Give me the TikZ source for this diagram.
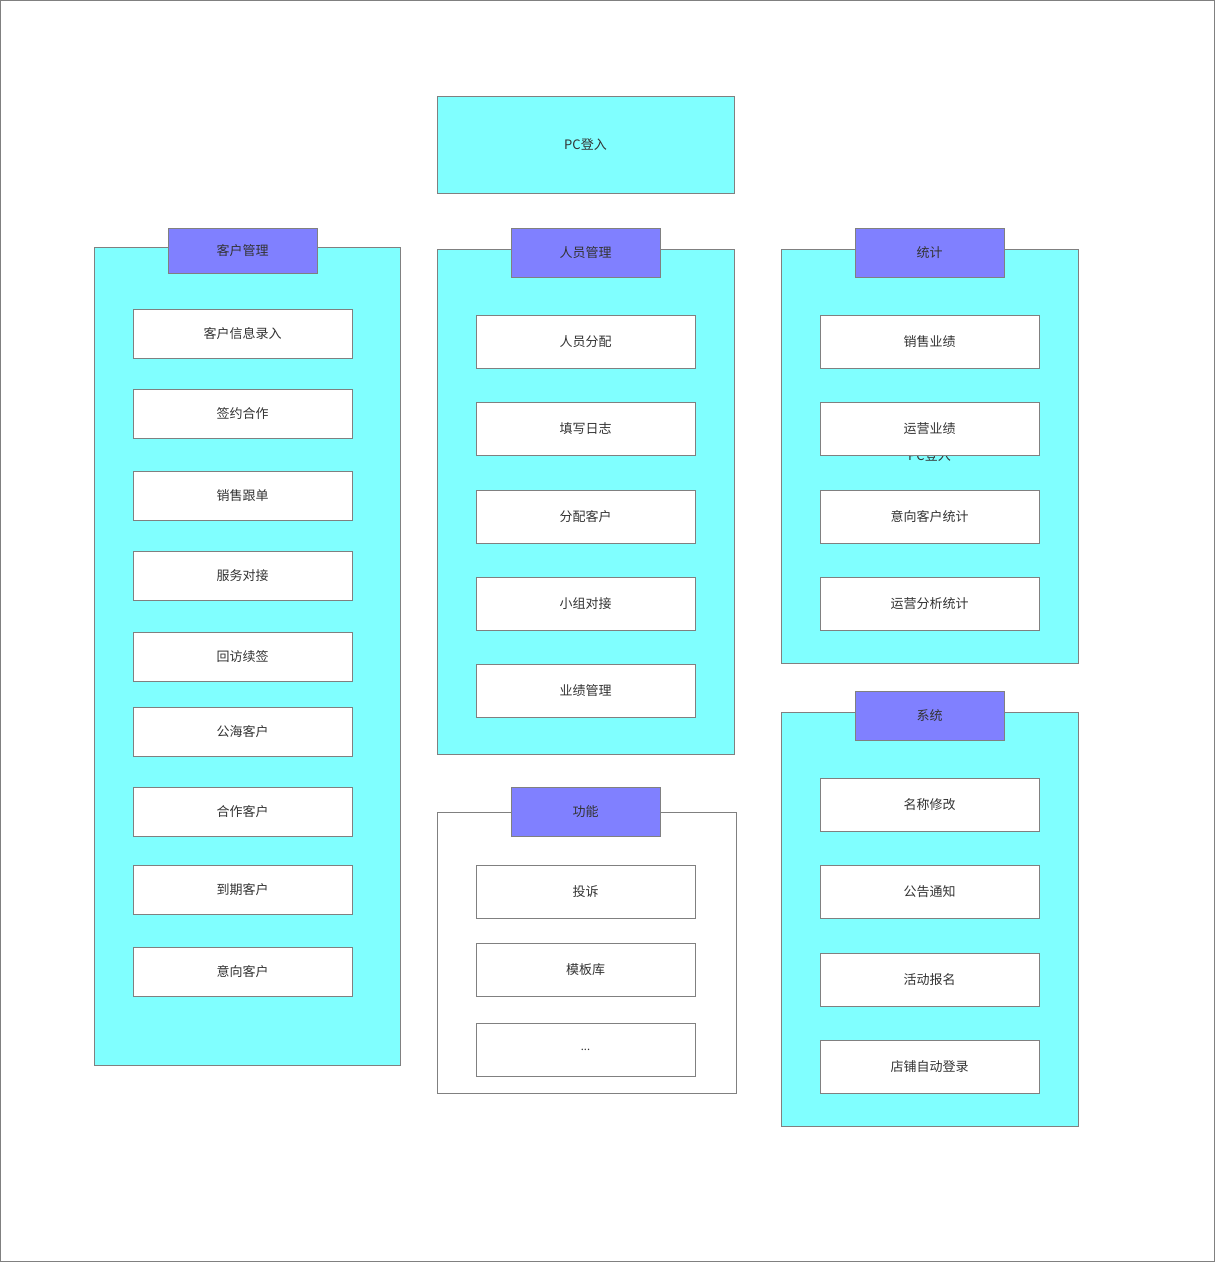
\documentclass[tikz,border=0pt]{standalone}
\usepackage{fontspec}
\newfontfamily\cjk{Noto Sans CJK SC}
\definecolor{panelcyan}{HTML}{80FFFF}
\definecolor{headblue}{HTML}{8080FF}
\definecolor{linegray}{HTML}{808080}
\definecolor{txt}{HTML}{333333}
\begin{document}
\begin{tikzpicture}[x=1pt,y=-1pt,
  every node/.style={font=\cjk\fontsize{13}{15}\selectfont, text=txt},
  panel/.style={draw=linegray, line width=1pt, fill=panelcyan},
  whitepanel/.style={draw=linegray, line width=1pt, fill=white},
  head/.style={draw=linegray, line width=1pt, fill=headblue},
  item/.style={draw=linegray, line width=1pt, fill=white}]
\useasboundingbox (0,0) rectangle (1215,1262);
\draw[linegray, line width=1pt] (0.5,0.5) rectangle (1214.5,1261.5);
% top
\draw[panel] (437,96) rectangle (734,193);
\node (pc) at (585.5,144.5) {PC登入};
% 客户管理
\draw[panel] (94,247) rectangle (400,1065);
\draw[head] (168,228) rectangle (317,273);
\node (kh) at (242.5,250.5) {客户管理};
\foreach \t/\a/\b/\n in {客户信息录入/309/358/k1,签约合作/389/438/k2,销售跟单/471/520/k3,服务对接/551/600/k4,回访续签/632/681/k5,公海客户/707/756/k6,合作客户/787/836/k7,到期客户/865/914/k8,意向客户/947/996/k9}{
  \draw[item] (133,\a) rectangle (352,\b);
  \node (\n) at (242.5,{(\a+\b)/2}) {\t};
}
% 人员管理
\draw[panel] (437,249) rectangle (734,754);
\draw[head] (511,228) rectangle (660,277);
\node (ry) at (585.5,252.5) {人员管理};
\foreach \t/\a/\b/\n in {人员分配/315/368/r1,填写日志/402/455/r2,分配客户/490/543/r3,小组对接/577/630/r4,业绩管理/664/717/r5}{
  \draw[item] (476,\a) rectangle (695,\b);
  \node (\n) at (585.5,{(\a+\b)/2}) {\t};
}
% 功能
\draw[whitepanel] (437,812) rectangle (736,1093);
\draw[head] (511,787) rectangle (660,836);
\node (gn) at (585.5,811.5) {功能};
\foreach \t/\a/\b/\n in {投诉/865/918/g1,模板库/943/996/g2}{
  \draw[item] (476,\a) rectangle (695,\b);
  \node (\n) at (585.5,{(\a+\b)/2}) {\t};
}
\draw[item] (476,1023) rectangle (695,1076);
\node[font=\cjk\fontsize{11}{13}\selectfont] (g3) at (585.5,1050) {...};
% 统计
\draw[panel] (781,249) rectangle (1078,663);
\node (tjlabel) at (929.5,456) {PC登入};
\draw[head] (855,228) rectangle (1004,277);
\node (tj) at (929.5,252.5) {统计};
\foreach \t/\a/\b/\n in {销售业绩/315/368/t1,运营业绩/402/455/t2,意向客户统计/490/543/t3,运营分析统计/577/630/t4}{
  \draw[item] (820,\a) rectangle (1039,\b);
  \node (\n) at (929.5,{(\a+\b)/2}) {\t};
}
% 系统
\draw[panel] (781,712) rectangle (1078,1126);
\draw[head] (855,691) rectangle (1004,740);
\node (xt) at (929.5,715.5) {系统};
\foreach \t/\a/\b/\n in {名称修改/778/831/s1,公告通知/865/918/s2,活动报名/953/1006/s3,店铺自动登录/1040/1093/s4}{
  \draw[item] (820,\a) rectangle (1039,\b);
  \node (\n) at (929.5,{(\a+\b)/2}) {\t};
}
\end{tikzpicture}
\end{document}
